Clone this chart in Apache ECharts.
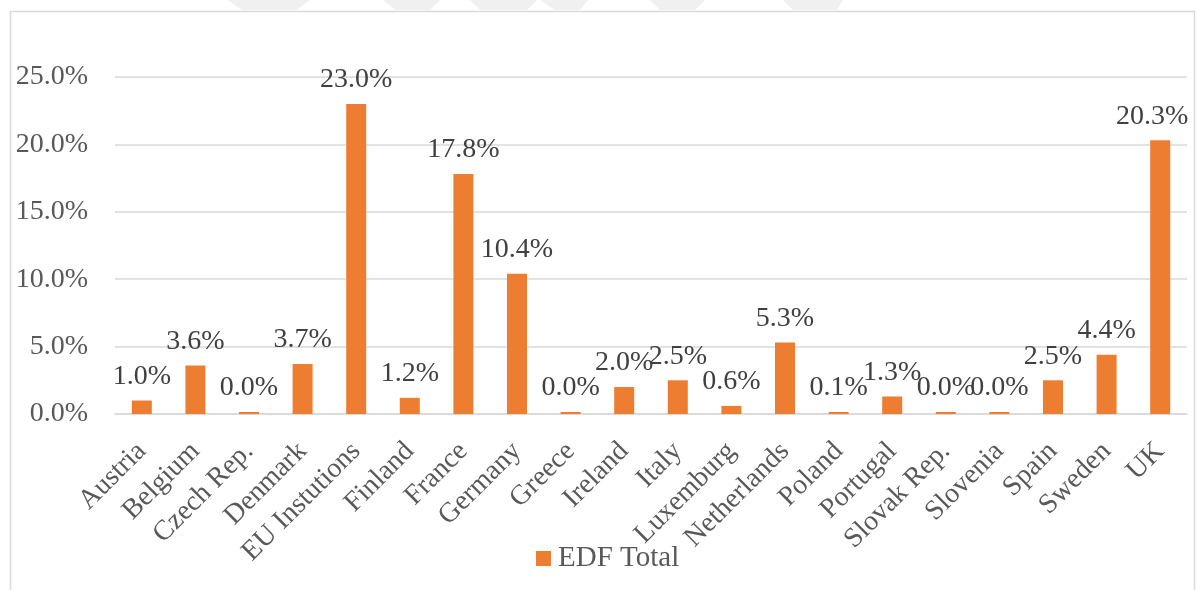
<!DOCTYPE html>
<html>
<head>
<meta charset="utf-8">
<script src="https://cdn.jsdelivr.net/npm/echarts@6/dist/echarts.min.js"></script>
<style>
  html, body { margin: 0; padding: 0; background: #ffffff; }
  #chart { width: 1196px; height: 590px; }
</style>
</head>
<body>
<div id="chart"></div>
<script>
// EDF share by member state / institution (percent)
const categories = [
  'Austria', 'Belgium', 'Czech Rep.', 'Denmark', 'EU Instutions', 'Finland',
  'France', 'Germany', 'Greece', 'Ireland', 'Italy', 'Luxemburg', 'Netherlands',
  'Poland', 'Portugal', 'Slovak Rep.', 'Slovenia', 'Spain', 'Sweden', 'UK'
];
const edfTotal = [
  1.0, 3.6, 0.0, 3.7, 23.0, 1.2,
  17.8, 10.4, 0.0, 2.0, 2.5, 0.6, 5.3,
  0.1, 1.3, 0.0, 0.0, 2.5, 4.4, 20.3
];
const seriesName = 'EDF Total';
const yTicks = { min: 0, max: 25, interval: 5 };

const FONT = "'Liberation Serif', 'Times New Roman', serif";
const chart = echarts.init(document.getElementById('chart'), null, { renderer: 'canvas' });

// the last label is nudged left so it stays inside the frame
const barData = edfTotal.map((v, i) =>
  i === edfTotal.length - 1 ? { value: v, label: { offset: [-8, 0] } } : v
);

chart.setOption({
  backgroundColor: '#ffffff',
  animation: false,
  textStyle: { fontFamily: FONT },
  graphic: [
    // faint header band shapes above the frame
    { type: 'polygon', silent: true, z: -1, shape: { points: [[228,0],[310,0],[296,10],[242,10]] }, style: { fill: '#f0f0f0' } },
    { type: 'polygon', silent: true, z: -1, shape: { points: [[383,0],[440,0],[430,10],[396,10]] }, style: { fill: '#f0f0f0' } },
    { type: 'polygon', silent: true, z: -1, shape: { points: [[470,0],[537,0],[527,10],[480,10]] }, style: { fill: '#f0f0f0' } },
    { type: 'polygon', silent: true, z: -1, shape: { points: [[540,0],[588,0],[580,10],[555,10]] }, style: { fill: '#f0f0f0' } },
    { type: 'polygon', silent: true, z: -1, shape: { points: [[650,0],[705,0],[695,10],[660,10]] }, style: { fill: '#f0f0f0' } },
    { type: 'polygon', silent: true, z: -1, shape: { points: [[783,0],[843,0],[837,10],[793,10]] }, style: { fill: '#f0f0f0' } },
    // chart frame
    { type: 'rect', silent: true, shape: { x: 10.5, y: 11.5, width: 1184, height: 600 },
      style: { fill: null, stroke: '#d9d9d9', lineWidth: 1.5 } }
  ],
  grid: { left: 115, right: 9, top: 77, bottom: 176, containLabel: false },
  legend: {
    data: [seriesName],
    left: 531, top: 539,
    icon: 'rect', itemWidth: 15, itemHeight: 15, itemGap: 10,
    textStyle: { fontFamily: FONT, fontSize: 29, color: '#595959', padding: [0, 0, 0, 2] }
  },
  xAxis: {
    type: 'category',
    data: categories,
    axisLine: { show: true, lineStyle: { color: '#d9d9d9', width: 1.5 } },
    axisTick: { show: false },
    axisLabel: {
      interval: 0, rotate: 45, margin: 33,
      fontFamily: FONT, fontSize: 28, color: '#595959'
    }
  },
  yAxis: {
    type: 'value',
    min: yTicks.min, max: yTicks.max, interval: yTicks.interval,
    axisLine: { show: false },
    axisTick: { show: false },
    splitLine: { show: true, lineStyle: { color: '#d9d9d9', width: 1.5 } },
    axisLabel: {
      margin: 27, fontFamily: FONT, fontSize: 28, color: '#595959',
      formatter: v => v.toFixed(1) + '%'
    }
  },
  series: [{
    name: seriesName,
    type: 'bar',
    data: barData,
    barWidth: 20,
    barMinHeight: 2,
    itemStyle: { color: '#ed7d31' },
    label: {
      show: true, position: 'top', distance: 10,
      fontFamily: FONT, fontSize: 28, color: '#404040',
      formatter: p => p.value.toFixed(1) + '%'
    }
  }]
});
</script>
</body>
</html>
